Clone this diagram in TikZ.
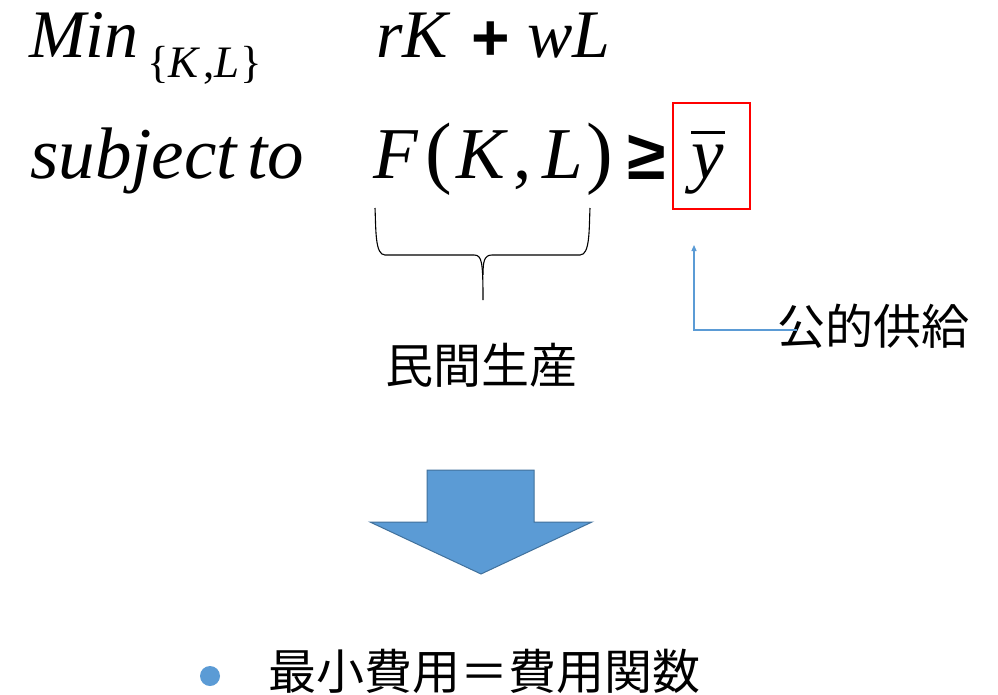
\documentclass[tikz,border=0pt]{standalone}
\usepackage{fontspec}
\usetikzlibrary{arrows.meta}
\setmainfont{Liberation Serif}
\newfontfamily\ars{Liberation Sans}
\newfontfamily\cjk{Noto Sans CJK JP}
\definecolor{accentblue}{HTML}{5B9BD5}
\definecolor{accentedge}{HTML}{41719C}
\tikzset{
  mathtxt/.style={inner sep=0pt, anchor=base west, font=\fontsize{68}{80}\selectfont},
  mathbig/.style={inner sep=0pt, anchor=base west, font=\fontsize{73}{86}\selectfont},
  mathup/.style={inner sep=0pt, anchor=base west, font=\fontsize{73}{86}\selectfont},
  paren/.style={inner sep=0pt, anchor=base west, font=\fontsize{80}{90}\selectfont},
  symtxt/.style={inner sep=0pt, font=\ars\bfseries\fontsize{66}{80}\selectfont},
  cjktxt/.style={inner sep=0pt, font=\cjk\fontsize{48}{56}\selectfont},
  connector/.style={draw=accentblue, line width=1.2pt, -{Triangle[length=6pt,width=5pt]}},
  bracepath/.style={draw=black, line width=1.1pt},
  bigarrow/.style={fill=accentblue, draw=accentedge, line width=1pt, line join=miter}
}
\begin{document}
\begin{tikzpicture}[x=1pt,y=-1pt]
\useasboundingbox[fill=white] (0,0) rectangle (998,694);

% line 1
\node[mathtxt] (min) at (29,57) {\textit{Min}};
\node[mathup, font=\fontsize{45}{52}\selectfont] (sub) at (147,77) {\{\textit{K}\hspace{3pt},\textit{L}\}};
\node[mathtxt] (rk) at (376,57) {\textit{rK}};
\node[symtxt, anchor=center] (plus) at (491,41) {+};
\node[mathtxt] (wl) at (527,57) {\textit{wL}};

% line 2
\node[mathbig] (st) at (30,178) {\textit{subject}\hspace{9pt}\textit{to}};
\node[mathbig] (f) at (373,178) {\textit{F}};
\node[paren] (lp) at (425,178) {(};
\node[mathbig] (k) at (456,178) {\textit{K}};
\node[mathup] (comma) at (513,178) {,};
\node[mathbig] (l) at (542,178) {\textit{L}};
\node[paren] (rp) at (586,178) {)};
\node[symtxt, anchor=center, font=\ars\bfseries\fontsize{70}{84}\selectfont] (geq) at (647,157) {≥};
\node[mathbig] (ybar) at (691,178) {\rlap{\raisebox{44.5pt}{\rule{34pt}{2.5pt}}}\textit{y}};
\node[draw=red, line width=2pt, minimum width=77pt, minimum height=106pt, inner sep=0pt] (box) at (711.5,156) {};

% brace under F(K,L)
\coordinate (brL) at (375,208);
\coordinate (brR) at (590,208);
\coordinate (brC) at (483,300);
\draw[bracepath] (brL) .. controls (376,230) and (375,255) .. (385,255)
  -- (474,255) .. controls (482,255) and (483,262) .. (brC);
\draw[bracepath] (brR) .. controls (589,230) and (590,255) .. (580,255)
  -- (492,255) .. controls (484,255) and (483,262) .. (483,275);

\node[cjktxt] (min2) at (481,365) {民間生産};

% public supply connector
\node[cjktxt] (gk) at (873,326) {公的供給};
\coordinate (gkin) at (797,330);
\coordinate (gktip) at (694,245);
\draw[connector] (gkin) -| (gktip);

% big down arrow
\draw[bigarrow] (427,470) -- (534,470) -- (534,522) -- (592,522) -- (481,574) -- (370,522) -- (427,522) -- cycle;

% bullet line
\node[circle, fill=accentblue, minimum size=20pt, inner sep=0pt] (dot) at (210,676) {};
\node[cjktxt, anchor=base west] (res) at (268,689) {最小費用＝費用関数};
\end{tikzpicture}
\end{document}
